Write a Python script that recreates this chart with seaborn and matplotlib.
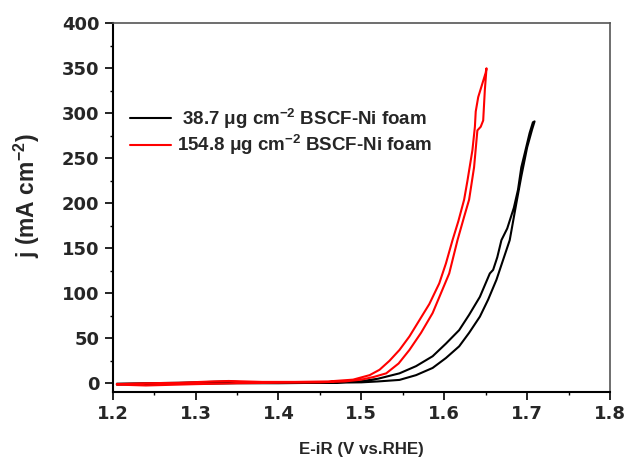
import matplotlib
matplotlib.use("Agg")
import matplotlib.pyplot as plt
import seaborn as sns
import pandas as pd
import numpy as np

# Cyclic voltammetry loops (forward scan followed by reverse scan)
labels = [r" 38.7 $\mu$g cm$^{-2}$ BSCF-Ni foam",
          r"154.8 $\mu$g cm$^{-2}$ BSCF-Ni foam"]
colors = ["#000000", "#ff0000"]

e_black = [1.205, 1.25, 1.30, 1.35, 1.40, 1.45, 1.50, 1.52, 1.546, 1.566, 1.586,
           1.602, 1.618, 1.630, 1.643, 1.653, 1.663, 1.671, 1.679, 1.687, 1.693,
           1.700, 1.706, 1.709,
           1.707, 1.703, 1.697, 1.693, 1.689, 1.684, 1.676, 1.669, 1.664, 1.659,
           1.655, 1.643, 1.630, 1.618, 1.602, 1.586, 1.566, 1.546, 1.52, 1.498,
           1.47, 1.42, 1.36, 1.34, 1.32, 1.28, 1.24, 1.205]
j_black = [-1.5, -1.0, -0.5, 0.0, 0.0, 0.5, 1.0, 2.0, 3.7, 9.0, 17.0,
           28.0, 41.0, 56.0, 74.0, 93.0, 115.0, 137.0, 159.0, 200.0, 230.0,
           262.0, 282.0, 291.0,
           290.0, 278.0, 255.0, 240.0, 215.0, 195.0, 172.0, 159.0, 140.0, 126.0,
           122.0, 96.0, 76.0, 59.0, 44.0, 30.0, 19.0, 11.0, 5.0, 2.0,
           1.0, 0.5, 1.0, 2.0, 1.5, 0.5, 0.0, -0.5]

e_red = [1.205, 1.24, 1.30, 1.35, 1.40, 1.45, 1.48, 1.50, 1.515, 1.530, 1.545,
         1.558, 1.572, 1.586, 1.596, 1.606, 1.616, 1.624, 1.630, 1.636, 1.640,
         1.644, 1.647, 1.649, 1.651,
         1.650, 1.645, 1.641, 1.638, 1.637, 1.634, 1.628, 1.624, 1.617, 1.610,
         1.602, 1.594, 1.582, 1.570, 1.558, 1.546, 1.534, 1.522, 1.51, 1.49,
         1.46, 1.42, 1.38, 1.34, 1.32, 1.28, 1.24, 1.205]
j_red = [-1.5, -2.5, -1.0, 0.0, 0.5, 1.0, 2.0, 4.0, 7.0, 11.0, 22.0,
         37.0, 56.0, 78.0, 100.0, 122.0, 159.0, 185.0, 204.0, 240.0, 281.0,
         285.0, 292.0, 326.0, 350.0,
         345.0, 330.0, 318.0, 302.0, 285.0, 259.0, 225.0, 204.0, 180.0, 159.0,
         133.0, 111.0, 88.0, 70.0, 52.0, 37.0, 25.0, 15.0, 9.0, 4.0,
         2.0, 1.5, 1.5, 2.5, 2.0, 0.5, 0.0, -1.0]

x_ticks = [1.2, 1.3, 1.4, 1.5, 1.6, 1.7, 1.8]
y_ticks = [0, 50, 100, 150, 200, 250, 300, 350, 400]

df = pd.concat([
    pd.DataFrame({"E": e_black, "j": j_black, "sample": labels[0],
                  "order": np.arange(len(e_black))}),
    pd.DataFrame({"E": e_red, "j": j_red, "sample": labels[1],
                  "order": np.arange(len(e_red))}),
], ignore_index=True)

sns.set_theme(style="white")
plt.rcParams["font.family"] = ["Liberation Sans", "DejaVu Sans"]
plt.rcParams["font.weight"] = "bold"
plt.rcParams["mathtext.fontset"] = "custom"
plt.rcParams["mathtext.rm"] = "Liberation Sans:bold"
plt.rcParams["mathtext.it"] = "Liberation Sans:bold"
plt.rcParams["mathtext.bf"] = "Liberation Sans:bold"
plt.rcParams["mathtext.default"] = "bf"

fig = plt.figure(figsize=(6.27, 4.59), dpi=100)
ax = fig.add_axes([112.7 / 627, 1 - 391.7 / 459, (610 - 112.7) / 627, (391.7 - 23.3) / 459])

sns.lineplot(data=df, x="E", y="j", hue="sample", palette=colors, sort=False,
             estimator=None, units="sample", linewidth=1.5, ax=ax)

ax.set_xlim(1.2, 1.8)
ax.set_ylim(-9.4, 400)
ax.set_xticks(x_ticks)
ax.set_yticks(y_ticks)
ax.set_xticks([1.25, 1.35, 1.45, 1.55, 1.65, 1.75], minor=True)
ax.set_yticks([25, 75, 125, 175, 225, 275, 325, 375], minor=True)
tick_font = dict(family="DejaVu Sans", size=13, weight="bold")
ax.set_xticklabels([f"{v:.1f}" for v in x_ticks], fontdict=tick_font)
ax.set_yticklabels([str(v) for v in y_ticks], fontdict=tick_font)
ax.tick_params(axis="both", which="major", direction="out", length=5.5, width=1.2,
               color="black", bottom=True, left=True, top=False, right=False, pad=4)
ax.tick_params(axis="both", which="minor", direction="out", length=2.5, width=1.0,
               color="black", bottom=True, left=True, top=False, right=False)

for side in ["left", "bottom"]:
    ax.spines[side].set_color("black")
    ax.spines[side].set_linewidth(1.5)
for side in ["top", "right"]:
    ax.spines[side].set_color("#555555")
    ax.spines[side].set_linewidth(1.2)

ax.set_xlabel("E-iR (V vs.RHE)", fontsize=12.2, fontweight="bold", labelpad=14)
ax.set_ylabel(r"j (mA cm$^{-2}$)", fontsize=16.5, fontweight="bold")
ax.yaxis.set_label_coords(-0.142, 0.531)

leg = ax.legend(loc="center left", bbox_to_anchor=(0.0348, 0.705), frameon=False,
                fontsize=13.5, handlelength=2.17, handletextpad=0.32,
                labelspacing=0.15, borderpad=0, borderaxespad=0, title=None)
for line in leg.get_lines():
    line.set_linewidth(1.5)

fig.savefig("out.png", dpi=100, facecolor="white")
